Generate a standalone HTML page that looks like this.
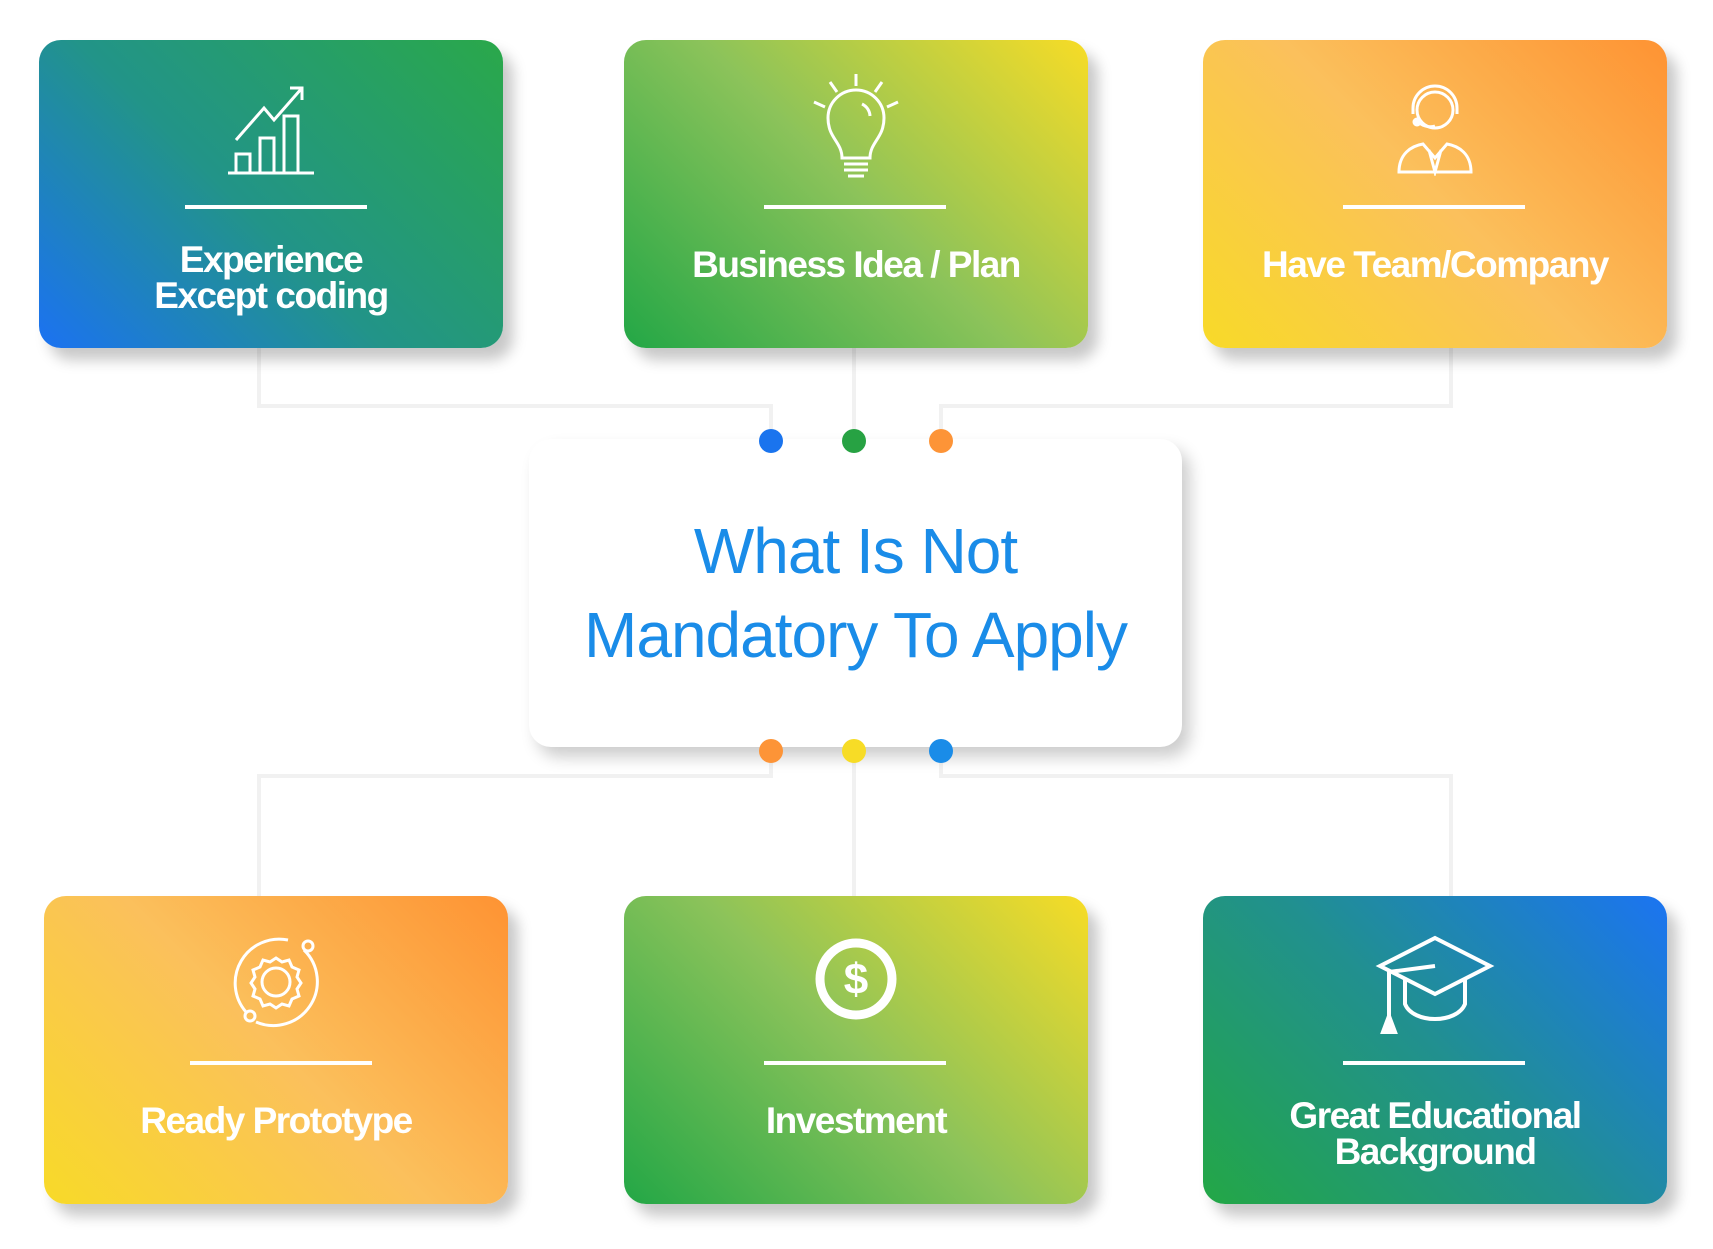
<!DOCTYPE html>
<html><head><meta charset="utf-8"><style>
body{margin:0;width:1713px;height:1249px;background:#fff;position:relative;overflow:hidden;font-family:"Liberation Sans Narrow","Liberation Sans",sans-serif}
.card{position:absolute;width:464px;height:308px;border-radius:22px;box-shadow:10px 12px 14px rgba(0,0,0,.22)}
.card .ic{position:absolute;left:0;right:0;top:40px;height:110px;display:flex;justify-content:center}
.card .ln{position:absolute;left:146px;width:182px;top:165px;height:4px;background:#fff}
.card .tx{position:absolute;left:0;right:0;top:200px;text-align:center;color:#fff;font-weight:bold;font-size:37px;line-height:36px;letter-spacing:-1.5px}
.g1{background:linear-gradient(45deg,#1b72f2 0%,#229488 45%,#2aa84a 100%)}
.g2{background:linear-gradient(45deg,#23a746 0%,#8cc35a 50%,#f7dc26 100%)}
.g3{background:linear-gradient(45deg,#f8da28 0%,#fbc05c 50%,#fe9333 100%)}
.g4{background:linear-gradient(45deg,#23a746 0%,#21908f 50%,#1b74f2 100%)}
.conn{position:absolute;background:#f1f1f1}
.dot{position:absolute;width:24px;height:24px;border-radius:50%}
#center{position:absolute;left:529px;top:439px;width:653px;height:308px;background:#fff;border-radius:22px;box-shadow:8px 10px 16px rgba(0,0,0,.2);text-align:center;color:#1a8ce8;font-family:"Liberation Sans",sans-serif;font-size:64px;line-height:84px;letter-spacing:-1px}
</style></head><body>
<div class="conn" style="left:257px;top:347px;width:4px;height:61px"></div>
<div class="conn" style="left:257px;top:404px;width:516px;height:4px"></div>
<div class="conn" style="left:769px;top:404px;width:4px;height:36px"></div>
<div class="conn" style="left:852px;top:347px;width:4px;height:93px"></div>
<div class="conn" style="left:1449px;top:347px;width:4px;height:61px"></div>
<div class="conn" style="left:939px;top:404px;width:514px;height:4px"></div>
<div class="conn" style="left:939px;top:404px;width:4px;height:36px"></div>
<div class="conn" style="left:257px;top:774px;width:4px;height:122px"></div>
<div class="conn" style="left:257px;top:774px;width:516px;height:4px"></div>
<div class="conn" style="left:769px;top:751px;width:4px;height:27px"></div>
<div class="conn" style="left:852px;top:751px;width:4px;height:145px"></div>
<div class="conn" style="left:939px;top:774px;width:514px;height:4px"></div>
<div class="conn" style="left:939px;top:751px;width:4px;height:27px"></div>
<div class="conn" style="left:1449px;top:774px;width:4px;height:122px"></div>

<div class="card g1" style="left:39px;top:40px">
<div class="ic"><svg width="90" height="96" viewBox="0 0 90 96" fill="none" stroke="#fff" stroke-width="3"><path d="M2 93H88M10 92V74h14v18M34 92V58h14v34M58 92V36h14v56M10 60L38 28 48 40 76 8M64 8h12v12"/></svg></div>
<div class="ln"></div><div class="tx" style="top:202px">Experience<br>Except coding</div></div>

<div class="card g2" style="left:624px;top:40px">
<div class="ic" style="top:32px"><svg width="100" height="110" viewBox="0 0 100 110" fill="none" stroke="#fff" stroke-width="3"><path d="M50 2v12M24 10l7 10M76 10l-7 10M8 30l11 5M92 30l-11 5M36 86c0-16-14-20-14-40a28 28 0 0 1 56 0c0 20-14 24-14 40zM38 92h24M38 98h24M42 104h16M56 32a14 14 0 0 1 8 12"/></svg></div>
<div class="ln" style="left:140px"></div><div class="tx" style="top:207px">Business Idea / Plan</div></div>

<div class="card g3" style="left:1203px;top:40px">
<div class="ic"><svg width="80" height="96" viewBox="0 0 80 96" fill="none" stroke="#fff" stroke-width="3"><circle cx="40" cy="30" r="18"/><path d="M18 34v-6a22 22 0 0 1 44 0v6M22 40c4 6 12 8 18 6M4 92c0-18 12-26 24-28l12 14 12-14c12 2 24 10 24 28zM34 70l6 22 6-22"/><circle cx="22" cy="42" r="3" fill="#fff"/></svg></div>
<div class="ln" style="left:140px"></div><div class="tx" style="top:207px">Have Team/Company</div></div>

<div id="center"><div style="padding-top:70px">What Is Not<br>Mandatory To Apply</div></div>

<div class="dot" style="left:759px;top:429px;background:#1a74ee"></div>
<div class="dot" style="left:842px;top:429px;background:#27a243"></div>
<div class="dot" style="left:929px;top:429px;background:#fd9437"></div>
<div class="dot" style="left:759px;top:739px;background:#fd9437"></div>
<div class="dot" style="left:842px;top:739px;background:#f7dc26"></div>
<div class="dot" style="left:929px;top:739px;background:#1a8ce8"></div>

<div class="card g3" style="left:44px;top:896px">
<div class="ic" style="top:36px"><svg width="100" height="100" viewBox="0 0 100 100" fill="none" stroke="#fff" stroke-width="3"><circle cx="50" cy="50" r="14"/><path d="M50 26l6 4 7-2 3 7 7 3-2 7 4 6-4 6 2 7-7 3-3 7-7-2-6 4-6-4-7 2-3-7-7-3 2-7-4-6 4-6-2-7 7-3 3-7 7 2z"/><path d="M78 18A44 44 0 0 1 30 90M20 80A44 44 0 0 1 62 8"/><circle cx="82" cy="14" r="5"/><circle cx="24" cy="84" r="5"/></svg></div>
<div class="ln"></div><div class="tx" style="top:207px">Ready Prototype</div></div>

<div class="card g2" style="left:624px;top:896px">
<div class="ic" style="top:38px"><svg width="90" height="90" viewBox="0 0 90 90"><circle cx="45" cy="45" r="36" fill="none" stroke="#fff" stroke-width="9"/><text x="45" y="60" text-anchor="middle" fill="#fff" font-family="Liberation Sans" font-weight="bold" font-size="44">$</text></svg></div>
<div class="ln" style="left:140px"></div><div class="tx" style="top:207px">Investment</div></div>

<div class="card g4" style="left:1203px;top:896px">
<div class="ic" style="top:38px"><svg width="120" height="100" viewBox="0 0 120 100" fill="none" stroke="#fff" stroke-width="4"><path d="M60 4l55 28-55 28L5 32z"/><path d="M30 46v24c8 20 52 20 60 0V46M60 32L14 38v46"/><path d="M8 98l6-16 6 16z" fill="#fff"/></svg></div>
<div class="ln" style="left:140px"></div><div class="tx" style="top:202px">Great Educational<br>Background</div></div>
</body></html>
